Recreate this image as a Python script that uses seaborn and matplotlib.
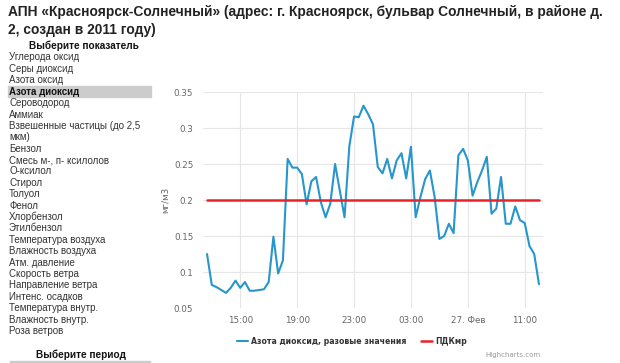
import pandas as pd
import numpy as np
import matplotlib
matplotlib.use("Agg")
import matplotlib.pyplot as plt
from matplotlib.patches import Rectangle
import seaborn as sns

# Data
no2 = [0.125, 0.082, 0.079, 0.075, 0.071, 0.078, 0.088, 0.078, 0.086, 0.074,
       0.074, 0.075, 0.076, 0.086, 0.149, 0.098, 0.116, 0.257, 0.245, 0.245,
       0.236, 0.194, 0.226, 0.232, 0.197, 0.176, 0.195, 0.250, 0.213, 0.176,
       0.274, 0.316, 0.315, 0.331, 0.319, 0.305, 0.246, 0.237, 0.257, 0.230,
       0.255, 0.265, 0.230, 0.274, 0.176, 0.204, 0.229, 0.241, 0.204, 0.146,
       0.150, 0.167, 0.154, 0.262, 0.271, 0.255, 0.206, 0.225, 0.241, 0.260,
       0.181, 0.188, 0.232, 0.167, 0.167, 0.191, 0.172, 0.168, 0.136, 0.125,
       0.083]
pdk = 0.2
start_time = "2016-02-26 12:40"
step = "20min"
tick_times = ["2016-02-26 15:00", "2016-02-26 19:00", "2016-02-26 23:00",
              "2016-02-27 03:00", "2016-02-27 07:00", "2016-02-27 11:00"]
tick_labels = ["15:00", "19:00", "23:00", "03:00", "27. Фев", "11:00"]
y_ticks = [0.05, 0.1, 0.15, 0.2, 0.25, 0.3, 0.35]
y_tick_labels = ["0.05", "0.1", "0.15", "0.2", "0.25", "0.3", "0.35"]
series_name = "Азота диоксид, разовые значения"
pdk_name = "ПДКмр"
unit = "мг/м3"
title_lines = ["АПН «Красноярск-Солнечный» (адрес: г. Красноярск, бульвар Солнечный, в районе д.",
               "2, создан в 2011 году)"]
menu_items = ["Углерода оксид", "Серы диоксид", "Азота оксид", "Азота диоксид",
              "Сероводород", "Аммиак", "Взвешенные частицы (до 2,5", "мкм)",
              "Бензол", "Смесь м-, п- ксилолов", "О-ксилол", "Стирол", "Толуол",
              "Фенол", "Хлорбензол", "Этилбензол", "Температура воздуха",
              "Влажность воздуха", "Атм. давление", "Скорость ветра",
              "Направление ветра", "Интенс. осадков", "Температура внутр.",
              "Влажность внутр.", "Роза ветров"]
selected = "Азота диоксид"

BLUE = "#2696cc"
RED = "#e8232a"
W, H = 620, 363
PAGE_FONT = ["Liberation Sans", "DejaVu Sans"]

sns.set_style("white")
plt.rcParams["font.family"] = ["DejaVu Sans"]


def fx(x):
    return x / W


def fy(y):
    return 1 - y / H


df = pd.DataFrame({"time": pd.date_range(start_time, periods=len(no2), freq=step),
                   "value": no2})
df["pdk"] = pdk

fig = plt.figure(figsize=(W / 100, H / 100), dpi=100)
ax = fig.add_axes([fx(203), fy(308), fx(543) - fx(203), fy(92) - fy(308)])

sns.lineplot(data=df, x="time", y="value", color=BLUE, lw=1.5, ax=ax, label=series_name)
sns.lineplot(data=df, x="time", y="pdk", color=RED, lw=1.8, ax=ax, label=pdk_name)

pad = pd.Timedelta(minutes=17)
ax.set_xlim(df["time"].iloc[0] - pad, df["time"].iloc[-1] + pad)
ax.set_ylim(y_ticks[0], y_ticks[-1])
ax.set_xticks(pd.to_datetime(tick_times))
ax.set_xticklabels(tick_labels)
ax.set_yticks(y_ticks)
ax.set_yticklabels(y_tick_labels)
ax.grid(True, color="#e6e6e6", lw=0.8)
ax.set_axisbelow(True)
for s in ax.spines.values():
    s.set_visible(False)
ax.tick_params(length=0, labelsize=6.3, colors="#666666")
ax.tick_params(axis="y", pad=7)
ax.tick_params(axis="x", pad=6)
ax.set_xlabel("")
ax.set_ylabel(unit, fontsize=6.3, color="#666666", labelpad=3)
ax.get_legend().remove()

h, l = ax.get_legend_handles_labels()
fig.legend(h, l, loc="center", bbox_to_anchor=(fx(352), fy(341)), ncol=2,
           frameon=False, handlelength=1.4, columnspacing=1.8, handletextpad=0.5,
           prop={"size": 5.6, "weight": "bold"}, labelcolor="#333333")
fig.text(fx(541), fy(355), "Highcharts.com", ha="right", va="center",
         fontsize=5, color="#999999")

# page text
for i, line in enumerate(title_lines):
    fig.text(fx(8), fy(16 + i * 18), line, ha="left", va="baseline", fontsize=9.9,
             weight="bold", family=PAGE_FONT, color="#222222")
fig.text(fx(84), fy(49), "Выберите показатель", ha="center", va="baseline",
         fontsize=7.2, weight="bold", family=PAGE_FONT, color="#111111")
fig.text(fx(81), fy(358), "Выберите период", ha="center", va="baseline",
         fontsize=7.2, weight="bold", family=PAGE_FONT, color="#111111")
fig.patches.append(Rectangle((fx(8), fy(97)), fx(151) - fx(8), fy(86) - fy(97),
                             transform=fig.transFigure, color="#cccccc", zorder=0))
fig.patches.append(Rectangle((fx(10), fy(364)), fx(150) - fx(10), fy(361) - fy(364),
                             transform=fig.transFigure, color="#cccccc", zorder=0))
for i, item in enumerate(menu_items):
    fig.text(fx(9), fy(60.5 + i * 11.4), item, ha="left", va="baseline", fontsize=7.0,
             family=PAGE_FONT,
             weight="bold" if item == selected else "normal",
             color="#111111" if item == selected else "#333333")

fig.savefig("out.png", dpi=100)
